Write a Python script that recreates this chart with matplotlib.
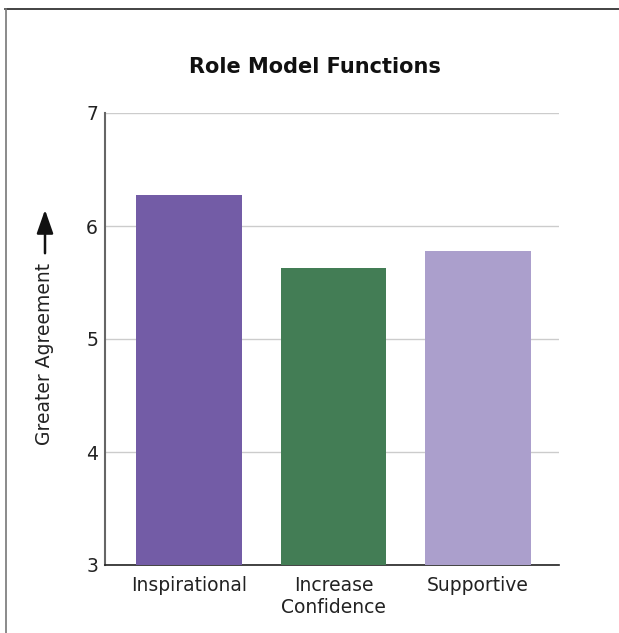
import numpy as np
import matplotlib.pyplot as plt
from matplotlib.lines import Line2D

# Data
categories = ["Inspirational", "Increase\nConfidence", "Supportive"]
values = [6.27, 5.63, 5.78]
colors = ["#735ca6", "#437d55", "#ab9fcc"]

fig = plt.figure(figsize=(6.19, 6.33), dpi=100)
ax = fig.add_axes([105/619, 1-565/633, 454/619, 452/633])

x = np.arange(len(categories))
ax.bar(x, values, width=0.73, color=colors, zorder=3)
ax.set_ylim(3, 7)
ax.set_xlim(-0.58, 2.56)
ax.set_yticks([3, 4, 5, 6, 7])
ax.set_xticks(x)
ax.set_xticklabels(categories, fontsize=13.5, color="#222222", linespacing=1.2)
ax.tick_params(axis="y", labelsize=13.5, colors="#222222", length=0, pad=5)
ax.tick_params(axis="x", length=0, pad=8)
ax.yaxis.grid(True, color="#cccccc", linewidth=1, zorder=0)
for s in ["top", "right"]:
    ax.spines[s].set_visible(False)
ax.spines["left"].set_color("#666666")
ax.spines["left"].set_linewidth(1.5)
ax.spines["bottom"].set_color("#222222")
ax.spines["bottom"].set_linewidth(1.2)

fig.text(315/619, 1-67/633, "Role Model Functions", ha="center", va="center",
         fontsize=15, fontweight="bold", color="#111111")

# axis label with arrow
fig.text(45/619, 1-354/633, "Greater Agreement", rotation=90, ha="center",
         va="center", fontsize=13.5, color="#222222")
fig.add_artist(plt.Annotation("", xy=(45/619, 1-207/633), xytext=(45/619, 1-256/633),
                              xycoords="figure fraction", textcoords="figure fraction",
                              arrowprops=dict(arrowstyle="-|>,head_length=0.8,head_width=0.28",
                                              color="#111111", lw=1.8,
                                              mutation_scale=18)))

# frame lines (top and left)
fig.add_artist(Line2D([5/619, 1], [1-9/633, 1-9/633], color="#222222", lw=1.2))
fig.add_artist(Line2D([6/619, 6/619], [0, 1-9/633], color="#777777", lw=1.2))

fig.savefig("out.png", dpi=100)
